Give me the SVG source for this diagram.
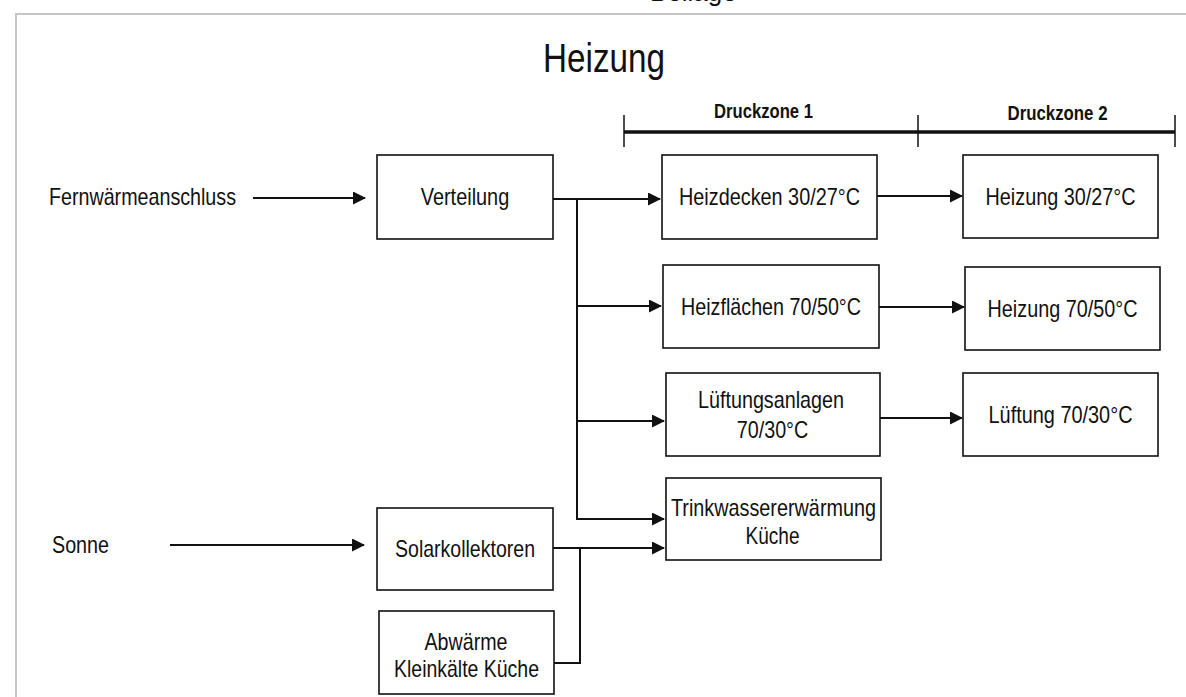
<svg xmlns="http://www.w3.org/2000/svg" width="1186" height="697" viewBox="0 0 1186 697">
  <style>
    .frame { fill: none; stroke: #c6c6c6; stroke-width: 2; }
    .box { fill: #ffffff; stroke: #111111; stroke-width: 1.6; }
    .lbl { font-family: "Liberation Sans Narrow", "Arial Narrow", "Liberation Sans", Arial, sans-serif; font-size: 24px; fill: #111111; text-anchor: middle; }
    .side { text-anchor: start; }
    .zone { font-family: "Liberation Sans Narrow", "Arial Narrow", "Liberation Sans", Arial, sans-serif; font-size: 20px; font-weight: bold; fill: #111111; text-anchor: middle; }
    .title { font-family: "Liberation Sans Narrow", "Arial Narrow", "Liberation Sans", Arial, sans-serif; font-size: 41px; fill: #111111; text-anchor: middle; }
    .head { font-family: "Liberation Sans", Arial, sans-serif; font-size: 26px; fill: #111111; }
    .wire { fill: none; stroke: #111111; stroke-width: 2; }
    .arrow { marker-end: url(#tip); }
    .dim { stroke: #111111; stroke-width: 3.4; }
    .tick { stroke: #111111; stroke-width: 1.5; }
  </style>
  <defs>
    <marker id="tip" markerUnits="userSpaceOnUse" markerWidth="14" markerHeight="14" refX="12" refY="6.5" orient="auto">
      <path d="M0,0 L13,6.5 L0,13 Z" fill="#111111"/>
    </marker>
  </defs>

  <rect width="1186" height="697" fill="#ffffff"/>

  <!-- page frame and cut-off page header -->
  <path class="frame" d="M16,697 V14 H1186"/>
  <text class="head" x="650" y="1">Beilage</text>

  <!-- title -->
  <text class="title" x="604" y="71.5" textLength="122" lengthAdjust="spacingAndGlyphs">Heizung</text>

  <!-- pressure zone scale -->
  <g id="druckzonen">
    <line class="dim" x1="624" y1="132" x2="1175" y2="132"/>
    <line class="tick" x1="624" y1="115" x2="624" y2="147"/>
    <line class="tick" x1="918" y1="115" x2="918" y2="147"/>
    <line class="tick" x1="1175" y1="115" x2="1175" y2="147"/>
    <text class="zone" x="763.5" y="118" textLength="99" lengthAdjust="spacingAndGlyphs">Druckzone 1</text>
    <text class="zone" x="1057.5" y="120" textLength="100" lengthAdjust="spacingAndGlyphs">Druckzone 2</text>
  </g>

  <!-- sources -->
  <g id="fernwaerme">
    <text class="lbl side" x="49" y="205" textLength="187" lengthAdjust="spacingAndGlyphs">Fernwärmeanschluss</text>
  </g>
  <g id="sonne">
    <text class="lbl side" x="52" y="553" textLength="57" lengthAdjust="spacingAndGlyphs">Sonne</text>
  </g>

  <!-- nodes -->
  <g id="verteilung">
    <rect class="box" x="377" y="155" width="176" height="84"/>
    <text class="lbl" x="465" y="205" textLength="88.5" lengthAdjust="spacingAndGlyphs">Verteilung</text>
  </g>
  <g id="heizdecken">
    <rect class="box" x="662" y="155" width="215" height="84"/>
    <text class="lbl" x="769.5" y="205" textLength="181" lengthAdjust="spacingAndGlyphs">Heizdecken 30/27°C</text>
  </g>
  <g id="heizung-30-27">
    <rect class="box" x="963" y="155" width="195" height="83"/>
    <text class="lbl" x="1060.5" y="205" textLength="150" lengthAdjust="spacingAndGlyphs">Heizung 30/27°C</text>
  </g>
  <g id="heizflaechen">
    <rect class="box" x="663" y="265" width="216" height="83"/>
    <text class="lbl" x="771" y="315" textLength="180" lengthAdjust="spacingAndGlyphs">Heizflächen 70/50°C</text>
  </g>
  <g id="heizung-70-50">
    <rect class="box" x="965" y="267" width="195" height="83"/>
    <text class="lbl" x="1062.5" y="317" textLength="150" lengthAdjust="spacingAndGlyphs">Heizung 70/50°C</text>
  </g>
  <g id="lueftungsanlagen">
    <rect class="box" x="666" y="373" width="214" height="83"/>
    <text class="lbl" x="771" y="408" textLength="146" lengthAdjust="spacingAndGlyphs">Lüftungsanlagen</text>
    <text class="lbl" x="772.5" y="438" textLength="71.5" lengthAdjust="spacingAndGlyphs">70/30°C</text>
  </g>
  <g id="lueftung-70-30">
    <rect class="box" x="963" y="373" width="195" height="83"/>
    <text class="lbl" x="1060.5" y="423" textLength="144" lengthAdjust="spacingAndGlyphs">Lüftung 70/30°C</text>
  </g>
  <g id="trinkwasser">
    <rect class="box" x="666" y="478" width="215" height="82"/>
    <text class="lbl" x="773.5" y="516" textLength="205" lengthAdjust="spacingAndGlyphs">Trinkwassererwärmung</text>
    <text class="lbl" x="772.5" y="544" textLength="54" lengthAdjust="spacingAndGlyphs">Küche</text>
  </g>
  <g id="solarkollektoren">
    <rect class="box" x="377" y="508" width="176" height="82"/>
    <text class="lbl" x="465" y="557" textLength="140" lengthAdjust="spacingAndGlyphs">Solarkollektoren</text>
  </g>
  <g id="abwaerme">
    <rect class="box" x="379" y="611" width="175" height="83"/>
    <text class="lbl" x="466" y="650" textLength="83" lengthAdjust="spacingAndGlyphs">Abwärme</text>
    <text class="lbl" x="466.5" y="677" textLength="145" lengthAdjust="spacingAndGlyphs">Kleinkälte Küche</text>
  </g>

  <!-- connectors -->
  <g id="connectors">
    <line class="wire arrow" x1="253" y1="198" x2="365" y2="198"/>
    <line class="wire arrow" x1="553" y1="199" x2="660" y2="199"/>
    <line class="wire" x1="577" y1="199" x2="577" y2="520"/>
    <line class="wire arrow" x1="577" y1="306" x2="661" y2="306"/>
    <line class="wire arrow" x1="577" y1="421" x2="664" y2="421"/>
    <line class="wire arrow" x1="576" y1="519" x2="664" y2="519"/>
    <line class="wire arrow" x1="877" y1="196" x2="962" y2="196"/>
    <line class="wire arrow" x1="879" y1="307" x2="964" y2="307"/>
    <line class="wire arrow" x1="880" y1="418" x2="962" y2="418"/>
    <line class="wire arrow" x1="170" y1="545" x2="364" y2="545"/>
    <line class="wire arrow" x1="553" y1="548" x2="664" y2="548"/>
    <polyline class="wire" points="554,663 580,663 580,548"/>
  </g>
</svg>
